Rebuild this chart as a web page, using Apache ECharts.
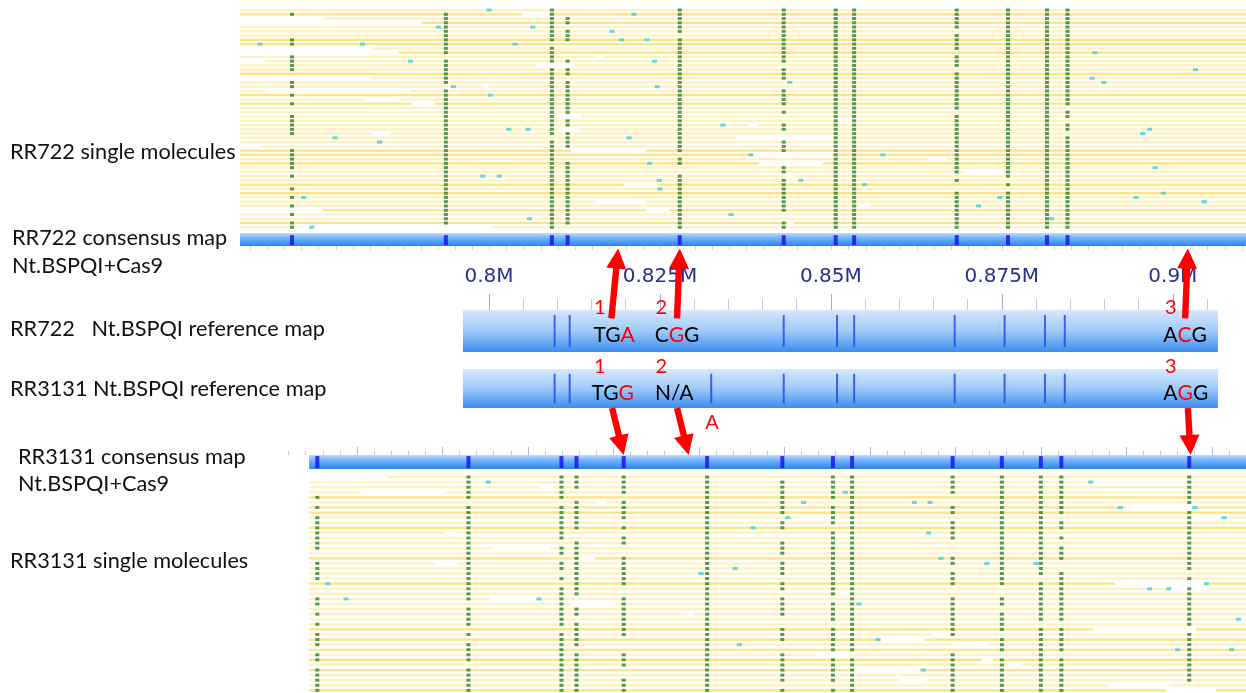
<!DOCTYPE html>
<html>
<head>
<meta charset="utf-8">
<script src="https://cdn.jsdelivr.net/npm/echarts@6/dist/echarts.min.js"></script>
<style>
  html, body { margin: 0; padding: 0; background: #fff; }
  #chart { width: 1246px; height: 693px; }
</style>
</head>
<body>
<div id="chart"></div>
<script>
// all genome positions are in kb
const X_MIN = 728.5, X_MAX = 910.7;

// ---- RR722 (top) ----
const topLabels = [771.2, 793.7, 809.2, 811.5, 827.9, 843.1, 850.7, 853.4, 868.4, 875.9, 881.6, 884.6];
const topConsSpan = [763.6, 910.7];
const topMolSpan = [763.6, 910.7];
// one string per molecule row, one char per consensus label (1 = label aligned)
const topRows = [
  '001011111111', '111011111111', '011111111111', '011111111111', '011011111111',
  '011111110111', '011101111111', '111111111111', '110011111111', '011011111111',
  '011011110111', '101011111111', '111111111111', '110010111111', '111111110111',
  '011111111111', '011011111111', '111110111111', '101110111111', '011111111111',
  '111111111111', '011111111111', '111111111111', '011110111110', '011111110111',
  '111010111111', '111110111110', '111111111111', '111011111111', '111110111110',
  '010110111111', '011111111111', '011111111111', '111011111111', '111000111111',
  '111010111111', '111110111111', '111101111111', '011101111111', '111110110111',
  '011111111011', '011111110111', '111111110011', '011111111111', '111111111111',
  '011111111111', '111111111111', '011111111111', '111110111111', '011110111111',
  '111111111111', '101011111111'
];
const topShade = '0101000110' + '1000010000' + '1010000000' + '0001101000' + '0101000100' + '10';
// rows whose molecules do not span the whole window
const topSegments = {
  1: [[763.6, 804.8], [808.8, 910.7]], 2: [[775.7, 910.7]], 3: [[790.1, 910.7]],
  9: [[783.0, 910.7]], 10: [[786.8, 910.7]], 11: [[763.6, 815.5], [816.8, 910.7]],
  12: [[767.3, 910.7]], 13: [[763.6, 806.9], [812.5, 910.7]], 16: [[782.5, 910.7]],
  18: [[763.6, 799.1], [799.9, 910.7]], 19: [[763.6, 767.3], [788.5, 910.7]],
  21: [[763.6, 781.7], [786.8, 910.7]], 22: [[763.6, 788.7], [792.0, 910.7]],
  25: [[763.6, 809.8], [813.6, 910.7]], 26: [[763.6, 851.2], [853.0, 910.7]],
  27: [[763.6, 838.0], [839.3, 910.7]], 28: [[763.6, 810.2], [813.2, 910.7]],
  29: [[763.6, 782.9], [785.5, 910.7]], 30: [[763.6, 836.1], [850.3, 910.7]],
  32: [[766.7, 910.7]], 33: [[763.6, 812.0], [823.0, 910.7]],
  34: [[763.6, 838.5], [850.2, 910.7]], 35: [[763.6, 864.2], [866.8, 910.7]],
  36: [[763.6, 839.5], [848.8, 910.7]], 38: [[763.6, 869.5], [875.2, 910.7]],
  39: [[763.6, 843.6], [844.6, 910.7]], 41: [[763.6, 819.7], [824.7, 910.7]],
  45: [[763.6, 815.6], [823.0, 910.7]], 46: [[763.6, 854.1], [855.8, 910.7]],
  47: [[775.7, 823.0], [826.3, 910.7]], 50: [[763.6, 843.6], [844.6, 910.7]],
  51: [[763.6, 772.8], [800.5, 910.7]]
};
// unaligned labels: [kb, row]
const topUnaligned = [
  [800.0, 0], [821.2, 1], [792.6, 4], [806.4, 4], [818.0, 5], [819.4, 7], [823.1, 7],
  [766.5, 8], [781.5, 8], [803.8, 8], [788.5, 12], [824.2, 12], [794.8, 18], [824.6, 18],
  [800.2, 20], [834.2, 27], [802.9, 28], [805.7, 28], [777.5, 30], [820.5, 30], [784.0, 31],
  [823.5, 36], [799.1, 39], [801.5, 39], [824.9, 40], [825.0, 42], [772.9, 44], [835.4, 48],
  [805.9, 49], [774.1, 51], [888.6, 10], [903.3, 14], [844.0, 17], [888.2, 16], [889.9, 17],
  [896.6, 28], [895.6, 29], [838.3, 34], [857.6, 34], [897.4, 37], [845.6, 40], [854.9, 41],
  [898.6, 43], [874.7, 44], [894.6, 44], [904.6, 45], [871.6, 46], [882.3, 49]
];

// ---- reference maps ----
const refSpan = [796.2, 906.6];
const ref722Sites = [809.6, 811.8, 843.1, 850.9, 853.4, 868.1, 875.4, 881.3, 884.2];
const ref3131Sites = [809.6, 811.8, 832.5, 843.1, 850.9, 853.4, 868.1, 875.4, 881.3, 884.2];
const axisLabelValues = [800, 825, 850, 875, 900];
const axisMajorTicks = [800, 825, 850, 875, 900];
const axisMinorTicks = [805, 810, 815, 820, 830, 835, 840, 845, 855, 860, 865, 870, 880, 885, 890, 895, 905];

const siteNames = ['1', '2', '3'];
const siteNamePos = [816.2, 825.2, 899.7];
const ref722Codons = ['TGA', 'CGG', 'ACG'];
const ref722Changed = [2, 1, 1];
const ref722CodonPos = [818.3, 827.5, 901.8];
const ref3131Codons = ['TGG', 'N/A', 'AGG'];
const ref3131Changed = [2, -1, 1];
const ref3131CodonPos = [818.1, 827.1, 901.9];
const extraNote = ['A'];
const extraNotePos = [832.6];

// arrows: [kb on reference map, kb on consensus map]
const arrowsUp = [[817.9, 818.9], [827.5, 827.9], [901.8, 902.2]];
const arrowsDown = [[818.0, 819.7], [827.5, 829.2], [902.2, 902.6]];

// ---- RR3131 (bottom) ----
const botLabels = [774.9, 797.0, 810.6, 812.8, 819.7, 831.9, 842.9, 850.3, 853.1, 867.8, 875.0, 880.7, 883.7, 902.4];
const botConsSpan = [773.7, 910.7];
const botMolSpan = [773.7, 910.7];
const botRows = [
  '01111101111111', '01111111111111', '01111111111111', '01101111111111', '11100111101111',
  '00011110101111', '11111111111110', '01111111111111', '11111101101101', '11110111111111',
  '11111110111111', '11100101111101', '11101101111111', '11011111101101', '11110111101111',
  '01110111101111', '01011101111111', '11111111111101', '11111111101101', '11011111111110',
  '11111101111011', '01011111111110', '01110111100111', '01110101100111', '11101110111111',
  '10101111111111', '01111111110111', '11111111111111', '01101101111111', '11111100111001',
  '00011111111110', '11111111110111', '10110111101111', '11110101101111', '01100101101111',
  '11111110010101', '11111111111111', '00111111111111', '11110111111111', '11110111111111',
  '11111111111111', '11111100111110', '11111111111110'
];
const botShade = '0000101100' + '1000001000' + '0100000000' + '1010101010' + '001';
const botSegments = {
  0: [[785.1, 910.7]], 1: [[773.7, 888.3], [901.9, 910.7]], 2: [[773.7, 807.3], [809.5, 910.7]],
  3: [[773.7, 781.0], [793.6, 910.7]], 5: [[773.7, 815.7], [817.2, 910.7]],
  6: [[773.7, 893.2], [903.4, 910.7]], 8: [[773.7, 845.4], [851.3, 902.9], [907.7, 910.7]],
  11: [[773.7, 793.6], [795.3, 910.7]], 14: [[773.7, 800.4], [808.9, 910.7]],
  16: [[773.7, 813.2], [815.5, 910.7]], 17: [[773.7, 791.9], [795.5, 910.7]],
  21: [[773.7, 891.5], [904.9, 910.7]], 22: [[773.7, 899.0], [905.0, 910.7]],
  23: [[773.7, 851.4], [852.8, 910.7]], 24: [[773.7, 800.1], [807.0, 910.7]],
  25: [[773.7, 812.0], [818.5, 910.7]], 27: [[773.7, 829.0], [829.9, 910.7]],
  30: [[773.7, 888.3], [903.4, 910.7]], 31: [[773.7, 864.7], [867.6, 910.7]],
  32: [[773.7, 857.1], [863.7, 910.7]], 33: [[773.7, 867.6], [873.0, 910.7]],
  35: [[773.7, 847.8], [852.7, 910.7]], 36: [[773.7, 872.0], [873.7, 910.7]],
  37: [[773.7, 875.9], [877.8, 910.7]], 38: [[773.7, 853.5], [863.0, 910.7]],
  40: [[773.7, 860.0], [863.9, 910.7]], 41: [[773.7, 890.7], [899.5, 910.7]],
  42: [[773.7, 899.0], [906.3, 910.7]]
};
const botUnaligned = [
  [799.9, 1], [838.6, 10], [836.0, 18], [831.0, 19], [776.4, 21], [779.1, 24], [807.3, 24],
  [836.6, 33], [888.0, 1], [852.1, 3], [846.0, 5], [862.2, 5], [864.5, 5], [892.3, 6],
  [903.2, 6], [843.7, 8], [907.5, 8], [864.3, 11], [866.1, 16], [872.8, 17], [880.0, 17],
  [904.9, 21], [896.6, 22], [899.4, 22], [854.1, 25], [909.6, 28], [856.9, 32], [900.7, 34],
  [908.6, 34], [863.5, 38]
];

const leftTexts = [
  ['RR722 single molecules', 10, 152],
  ['RR722 consensus map', 12, 238],
  ['Nt.BSPQI+Cas9', 12, 266],
  ['RR722   Nt.BSPQI reference map', 10, 329],
  ['RR3131 Nt.BSPQI reference map', 10, 389],
  ['RR3131 consensus map', 18, 457],
  ['Nt.BSPQI+Cas9', 18, 484],
  ['RR3131 single molecules', 10, 561]
];

// consensus map scale ticks
const topScaleTicks = [];
for (let v = 765.1; v < X_MAX; v += 2.5) topScaleTicks.push(+v.toFixed(2));
const botScaleTicks = [];
for (let v = 770.7; v < X_MAX; v += 2.5) botScaleTicks.push(+v.toFixed(2));
const botScaleLong = [];
for (let v = 780.7; v < X_MAX; v += 12.5) botScaleLong.push(+v.toFixed(2));

// ---------- build series data ----------
function moleculeData(rows, segs, span, shade) {
  const out = [];
  rows.forEach((r, i) => {
    (segs[i] || [span]).forEach(s => out.push([s[0], s[1], i, +shade[i]]));
  });
  return out;
}
function alignedData(rows, labels) {
  const out = [];
  rows.forEach((r, i) => {
    for (let j = 0; j < labels.length; j++) if (r[j] === '1') out.push([labels[j], i]);
  });
  return out;
}

const font = 'Lato, "Open Sans", sans-serif';

function renderMolecule(params, api) {
  const a = api.coord([api.value(0), api.value(2)]);
  const b = api.coord([api.value(1), api.value(2)]);
  const dark = api.value(3) === 1;
  return {
    type: 'rect',
    shape: { x: a[0], y: a[1] - 1.1, width: b[0] - a[0], height: 2.2 },
    style: { fill: dark ? '#fde47c' : '#fff2bf' }
  };
}
function barRenderer(stops) {
  return function (params, api) {
    const a = api.coord([api.value(0), 0]);
    const b = api.coord([api.value(1), 1]);
    return {
      type: 'rect',
      shape: { x: a[0], y: a[1], width: b[0] - a[0], height: b[1] - a[1] },
      style: { fill: new echarts.graphic.LinearGradient(0, 0, 0, 1, stops) }
    };
  };
}
const consStops = [
  { offset: 0, color: '#bcdcff' }, { offset: 0.35, color: '#78b6fb' },
  { offset: 1, color: '#2a84f4' }
];
const refStops = [
  { offset: 0, color: '#d6e8fc' }, { offset: 0.5, color: '#9ecaf8' },
  { offset: 1, color: '#3a8ef2' }
];
function renderSite(params, api) {
  const a = api.coord([api.value(0), 0.12]);
  const b = api.coord([api.value(0), 0.88]);
  return {
    type: 'rect',
    shape: { x: a[0] - 1, y: a[1], width: 2, height: b[1] - a[1] },
    style: { fill: '#2f47ee', opacity: 0.85 }
  };
}
function codonRich(codon, changed) {
  if (changed < 0) return codon;
  return codon.slice(0, changed) + '{r|' + codon[changed] + '}' + codon.slice(changed + 1);
}
function textRenderer(texts, color, size) {
  return function (params, api) {
    const p = api.coord([api.value(0), api.value(1)]);
    return {
      type: 'text', x: p[0], y: p[1],
      style: {
        text: texts[params.dataIndex], fill: color, fontSize: size, fontFamily: font,
        align: 'center', verticalAlign: 'middle',
        rich: { r: { fill: '#ff0000', fontSize: size, fontFamily: font } }
      }
    };
  };
}

const baseX = (i, extra) => Object.assign({
  type: 'value', gridIndex: i, min: X_MIN, max: X_MAX, show: false,
  axisLine: { show: false, onZero: false }, splitLine: { show: false }
}, extra || {});
const baseY = (i, min, max) => ({
  type: 'value', gridIndex: i, min: min, max: max, inverse: true, show: false,
  splitLine: { show: false }
});

const gridBoxes = [
  [7.9, 221.5],   // RR722 molecules
  [233, 13],      // RR722 consensus
  [310, 42],      // RR722 reference
  [369, 39],      // RR3131 reference
  [455, 14],      // RR3131 consensus
  [474.5, 218.4]  // RR3131 molecules
];

const option = {
  animation: false,
  backgroundColor: '#fff',
  grid: gridBoxes.map(g => ({
    left: 0, right: 0, top: g[0], height: g[1], containLabel: false, outerBoundsMode: 'none'
  })),
  xAxis: [
    baseX(0),
    baseX(1, {
      show: true, position: 'bottom',
      axisTick: { customValues: topScaleTicks, length: 4, lineStyle: { color: '#d2d3df' } },
      axisLabel: { show: false }
    }),
    baseX(2, {
      show: true, position: 'top',
      axisTick: { customValues: axisMajorTicks, length: 16, lineStyle: { color: '#a3a7d8' } },
      axisLabel: {
        customValues: axisLabelValues, margin: 23,
        formatter: v => (v / 1000) + 'M',
        color: '#2b2f8e', fontSize: 20, fontFamily: '"DejaVu Sans", sans-serif'
      }
    }),
    baseX(3),
    baseX(4, {
      show: true, position: 'top',
      axisTick: { customValues: botScaleTicks, length: 4, lineStyle: { color: '#c7c9e6' } },
      axisLabel: { show: false }
    }),
    baseX(5),
    baseX(2, {
      show: true, position: 'top',
      axisTick: { customValues: axisMinorTicks, length: 11, lineStyle: { color: '#c5c8ea' } },
      axisLabel: { show: false }
    }),
    baseX(4, {
      show: true, position: 'top',
      axisTick: { customValues: botScaleLong, length: 8, lineStyle: { color: '#b3b7e0' } },
      axisLabel: { show: false }
    })
  ],
  yAxis: [
    baseY(0, -0.5, topRows.length - 0.5),
    baseY(1, 0, 1), baseY(2, 0, 1), baseY(3, 0, 1), baseY(4, 0, 1),
    baseY(5, -0.5, botRows.length - 0.5)
  ],
  series: [
    // RR722 single molecules
    { type: 'custom', xAxisIndex: 0, yAxisIndex: 0, silent: true, renderItem: renderMolecule,
      data: moleculeData(topRows, topSegments, topMolSpan, topShade) },
    { type: 'scatter', xAxisIndex: 0, yAxisIndex: 0, silent: true, symbol: 'rect', symbolSize: [4, 3],
      itemStyle: { color: '#2f7f31' }, data: alignedData(topRows, topLabels) },
    { type: 'scatter', xAxisIndex: 0, yAxisIndex: 0, silent: true, symbol: 'rect', symbolSize: [5, 3],
      itemStyle: { color: '#36d3d8' }, data: topUnaligned },
    // RR722 consensus
    { type: 'custom', xAxisIndex: 1, yAxisIndex: 1, silent: true, renderItem: barRenderer(consStops),
      data: [topConsSpan] },
    { type: 'scatter', xAxisIndex: 1, yAxisIndex: 1, silent: true, symbol: 'rect', symbolSize: [4, 10],
      itemStyle: { color: '#1010ee' }, data: topLabels.map(v => [v, 0.55]) },
    // reference maps
    { type: 'custom', xAxisIndex: 2, yAxisIndex: 2, silent: true, renderItem: barRenderer(refStops),
      data: [refSpan] },
    { type: 'custom', xAxisIndex: 2, yAxisIndex: 2, silent: true, renderItem: renderSite,
      data: ref722Sites.map(v => [v]) },
    { type: 'custom', xAxisIndex: 3, yAxisIndex: 3, silent: true, renderItem: barRenderer(refStops),
      data: [refSpan] },
    { type: 'custom', xAxisIndex: 3, yAxisIndex: 3, silent: true, renderItem: renderSite,
      data: ref3131Sites.map(v => [v]) },
    { type: 'custom', xAxisIndex: 2, yAxisIndex: 2, silent: true,
      renderItem: textRenderer(ref722Codons.map((c, i) => codonRich(c, ref722Changed[i])), '#000', 21),
      data: ref722CodonPos.map(v => [v, 0.59]) },
    { type: 'custom', xAxisIndex: 3, yAxisIndex: 3, silent: true,
      renderItem: textRenderer(ref3131Codons.map((c, i) => codonRich(c, ref3131Changed[i])), '#000', 21),
      data: ref3131CodonPos.map(v => [v, 0.63]) },
    { type: 'custom', xAxisIndex: 2, yAxisIndex: 2, silent: true,
      renderItem: textRenderer(siteNames, '#ff0000', 20), data: siteNamePos.map(v => [v, -0.06]) },
    { type: 'custom', xAxisIndex: 3, yAxisIndex: 3, silent: true,
      renderItem: textRenderer(siteNames, '#ff0000', 20), data: siteNamePos.map(v => [v, -0.06]) },
    { type: 'custom', xAxisIndex: 3, yAxisIndex: 3, silent: true,
      renderItem: textRenderer(extraNote, '#ff0000', 20), data: extraNotePos.map(v => [v, 1.38]) },
    // RR3131 consensus
    { type: 'custom', xAxisIndex: 4, yAxisIndex: 4, silent: true, renderItem: barRenderer(consStops),
      data: [botConsSpan] },
    { type: 'scatter', xAxisIndex: 4, yAxisIndex: 4, silent: true, symbol: 'rect', symbolSize: [4, 12],
      itemStyle: { color: '#1010ee' }, data: botLabels.map(v => [v, 0.5]) },
    // RR3131 single molecules
    { type: 'custom', xAxisIndex: 5, yAxisIndex: 5, silent: true, renderItem: renderMolecule,
      data: moleculeData(botRows, botSegments, botMolSpan, botShade) },
    { type: 'scatter', xAxisIndex: 5, yAxisIndex: 5, silent: true, symbol: 'rect', symbolSize: [4, 3],
      itemStyle: { color: '#2f7f31' }, data: alignedData(botRows, botLabels) },
    { type: 'scatter', xAxisIndex: 5, yAxisIndex: 5, silent: true, symbol: 'rect', symbolSize: [5, 3],
      itemStyle: { color: '#36d3d8' }, data: botUnaligned }
  ]
};

const chart = echarts.init(document.getElementById('chart'));
chart.setOption(option);

// arrows link reference sites to consensus maps, placed through the grids' scales
function arrowPoints(tail, tip) {
  const dx = tip[0] - tail[0], dy = tip[1] - tail[1];
  const len = Math.sqrt(dx * dx + dy * dy);
  const ux = dx / len, uy = dy / len, nx = -uy, ny = ux;
  const headLen = 20, headW = 10, shaftW = 3.2;
  const sx = tip[0] - ux * headLen, sy = tip[1] - uy * headLen;
  return [
    [tail[0] + nx * shaftW, tail[1] + ny * shaftW],
    [sx + nx * shaftW, sy + ny * shaftW],
    [sx + nx * headW, sy + ny * headW],
    [tip[0], tip[1]],
    [sx - nx * headW, sy - ny * headW],
    [sx - nx * shaftW, sy - ny * shaftW],
    [tail[0] - nx * shaftW, tail[1] - ny * shaftW]
  ];
}
const px = (grid, kb, frac) => chart.convertToPixel({ gridIndex: grid }, [kb, frac]);
const graphics = [];
arrowsUp.forEach(a => {
  graphics.push({ type: 'polygon', silent: true, z: 100,
    shape: { points: arrowPoints(px(2, a[0], 0.2), px(1, a[1], 1.2)) }, style: { fill: '#ff0000' } });
});
arrowsDown.forEach(a => {
  graphics.push({ type: 'polygon', silent: true, z: 100,
    shape: { points: arrowPoints(px(3, a[0], 1.0), px(4, a[1], 0.0)) }, style: { fill: '#ff0000' } });
});
leftTexts.forEach(t => {
  graphics.push({ type: 'text', x: t[1], y: t[2], silent: true,
    style: { text: t[0], fontSize: 21.7, fontFamily: font, fill: '#111', verticalAlign: 'middle' } });
});
chart.setOption({ graphic: graphics });
</script>
</body>
</html>
